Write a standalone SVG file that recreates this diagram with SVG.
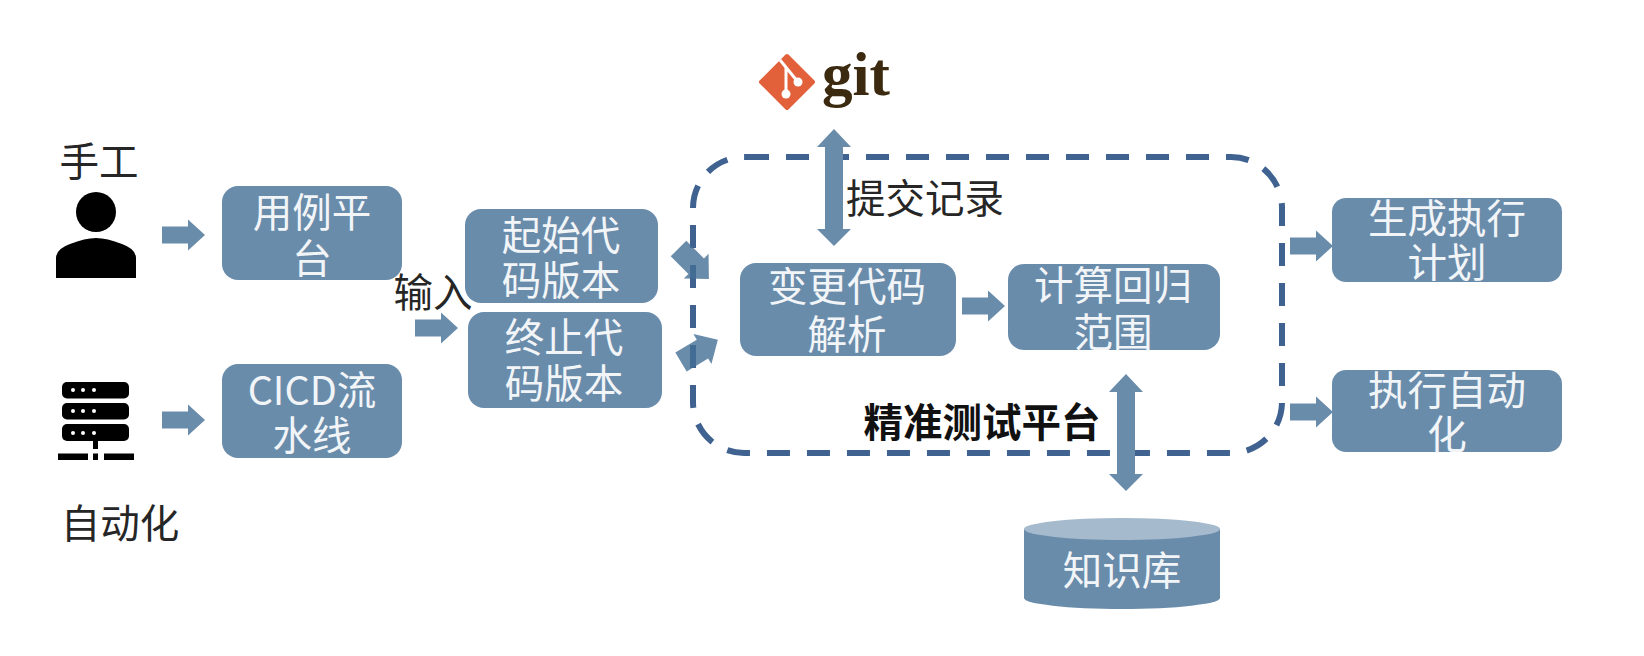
<svg xmlns="http://www.w3.org/2000/svg" width="1644" height="656" viewBox="0 0 1644 656">
<style>
text{font-family:"Noto Sans CJK SC","Noto Sans",sans-serif;font-size:39.500px;text-anchor:middle;dominant-baseline:central}
.box{fill:#6a8cab}
.w{fill:#f2f5f8}
.k{fill:#262626}
.arrow{fill:#6a8cab}
.see{fill:#456f96;fill-opacity:.8}
</style>
<defs>
<path id="ar" d="M0,-8.500H26V-15.500L43,0L26,15.500V8.500H0Z"/>
<path id="ar2" d="M0,-11H25V-17.500L43,0L25,17.500V11H0Z"/>
</defs>
<rect width="1644" height="656" fill="#fff"/>
<g id="platform">
<path d="M746,157H1231A51,51 0 0 1 1282,208V402A51,51 0 0 1 1231,453H744A51,51 0 0 1 693,402V208A51,51 0 0 1 744,157Z" fill="none" stroke="#3f6290" stroke-width="6" stroke-dasharray="23 17"/>
<text x="982" y="419" font-weight="700" style="fill:#111">精准测试平台</text>
</g>
<g id="connectors">
<use href="#ar" class="arrow" transform="translate(162,235)"/>
<use href="#ar" class="arrow" transform="translate(162,420)"/>
<use href="#ar" class="arrow" transform="translate(415,328)"/>
<use href="#ar2" class="see" transform="translate(678.500,248.500) rotate(45)"/>
<use href="#ar2" class="see" transform="translate(681,362) rotate(-31)"/>
<use href="#ar" class="arrow" transform="translate(962,306)"/>
<use href="#ar" class="arrow" transform="translate(1290,246)"/>
<use href="#ar" class="arrow" transform="translate(1290,412)"/>
<path class="arrow" d="M834,129L851,147H843V229H851L834,246L817,229H825V147H817Z"/>
<path class="arrow" d="M1126,374L1143,392H1135V474H1143L1126,491L1109,474H1117V392H1109Z"/>
</g>
<g id="manual">
<text x="99" y="158" class="k">手工</text>
<circle cx="96" cy="212" r="20"/>
<path d="M56,278V258Q56,249 70,244Q85,238 96,238Q107,238 122,244Q136,249 136,258V278Z"/>
</g>
<g id="automation">
<rect x="62" y="382" width="67" height="16.500" rx="5"/>
<rect x="62" y="403" width="67" height="16.500" rx="5"/>
<rect x="62" y="424" width="67" height="17" rx="5"/>
<g fill="#fff">
<circle cx="73" cy="390" r="2"/><circle cx="83" cy="390" r="2"/><circle cx="94" cy="390" r="2"/>
<circle cx="73" cy="411" r="2"/><circle cx="83" cy="411" r="2"/><circle cx="94" cy="411" r="2"/>
<circle cx="73" cy="433" r="2"/><circle cx="83" cy="433" r="2"/><circle cx="94" cy="433" r="2"/>
</g>
<rect x="93" y="441" width="5" height="8"/>
<rect x="58" y="453.500" width="30" height="6.500"/>
<rect x="93" y="453.500" width="5" height="6.500"/>
<rect x="104" y="453.500" width="30" height="6.500"/>
<text x="120" y="520" class="k">自动化</text>
</g>
<g id="case-platform">
<rect class="box" x="222" y="186" width="180" height="94" rx="16"/>
<text class="w" x="312" y="209">用例平</text><text class="w" x="312" y="255">台</text>
</g>
<g id="cicd">
<rect class="box" x="222" y="364" width="180" height="94" rx="16"/>
<text class="w" x="312" y="387">CICD流</text><text class="w" x="312" y="432">水线</text>
</g>
<g id="input-label"><text x="433" y="289" class="k">输入</text></g>
<g id="start-version">
<rect class="box" x="465" y="209" width="193" height="94" rx="16"/>
<text class="w" x="561" y="232">起始代</text><text class="w" x="561" y="277">码版本</text>
</g>
<g id="end-version">
<rect class="box" x="468" y="312" width="194" height="96" rx="16"/>
<text class="w" x="564" y="334">终止代</text><text class="w" x="564" y="380">码版本</text>
</g>
<g id="git">
<path d="M787,56L813,82L787,108L761,82Z" fill="#e2603a" stroke="#e2603a" stroke-width="4" stroke-linejoin="round"/>
<path d="M780,60L798,82M786,67V94" fill="none" stroke="#fff" stroke-width="3"/>
<circle cx="786" cy="94" r="4.500" fill="#fff"/><circle cx="798" cy="82" r="4.500" fill="#fff"/>
<text x="856" y="95" font-weight="700" textLength="68" lengthAdjust="spacingAndGlyphs" style="font-family:'Liberation Serif',serif;font-size:62px;fill:#3b2a10;dominant-baseline:alphabetic">git</text>
</g>
<g id="commit-label"><text x="925" y="195" class="k">提交记录</text></g>
<g id="diff">
<rect class="box" x="740" y="263" width="216" height="93" rx="16"/>
<text class="w" x="847" y="283">变更代码</text><text class="w" x="847" y="331">解析</text>
</g>
<g id="scope">
<rect class="box" x="1008" y="264" width="212" height="86" rx="16"/>
<text class="w" x="1113" y="282">计算回归</text><text class="w" x="1113" y="329">范围</text>
</g>
<g id="plan">
<rect class="box" x="1332" y="198" width="230" height="84" rx="14"/>
<text class="w" x="1447" y="215">生成执行</text><text class="w" x="1447" y="259">计划</text>
</g>
<g id="run">
<rect class="box" x="1332" y="370" width="230" height="82" rx="14"/>
<text class="w" x="1447" y="387">执行自动</text><text class="w" x="1447" y="431">化</text>
</g>
<g id="knowledge">
<path class="box" d="M1024,529V598A98,11 0 0 0 1220,598V529Z"/>
<ellipse cx="1122" cy="529" rx="98" ry="11" fill="#a5bacd"/>
<text class="w" x="1122" y="567">知识库</text>
</g>
</svg>
